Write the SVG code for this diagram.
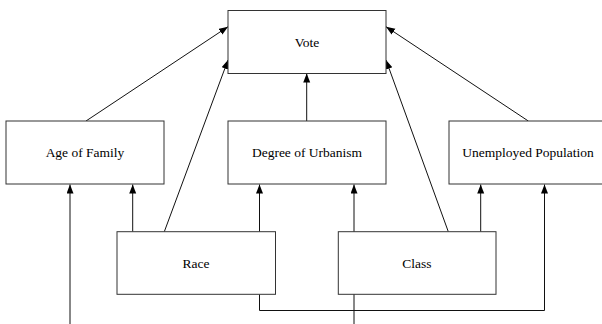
<svg xmlns="http://www.w3.org/2000/svg" width="602" height="324" viewBox="0 0 602 324">
<style>
.box{fill:#fff;stroke:#333;stroke-width:1}
.lbl{font-family:'Liberation Serif','DejaVu Serif',serif;font-size:13.5px;fill:#000;text-anchor:middle}
.c{fill:none;stroke:#111;stroke-width:1}
</style>
<defs>
<marker id="ah" markerUnits="userSpaceOnUse" markerWidth="10" markerHeight="8" refX="9" refY="3.5" orient="auto">
<path d="M0,0 L9,3.5 L0,7 Z" fill="#000"/>
</marker>
</defs>
<rect width="602" height="324" fill="#fff"/>
<g id="connectors">
<line class="c" x1="86" y1="121" x2="228" y2="26.7" marker-end="url(#ah)"/>
<line class="c" x1="164.3" y1="231.7" x2="228" y2="60" marker-end="url(#ah)"/>
<line class="c" x1="306.7" y1="121" x2="306.7" y2="73.5" marker-end="url(#ah)"/>
<line class="c" x1="448.3" y1="231.7" x2="386" y2="60" marker-end="url(#ah)"/>
<line class="c" x1="528.3" y1="121" x2="386" y2="26.7" marker-end="url(#ah)"/>
<line class="c" x1="70" y1="324" x2="70" y2="184.5" marker-end="url(#ah)"/>
<line class="c" x1="132.7" y1="231.7" x2="132.7" y2="184.5" marker-end="url(#ah)"/>
<line class="c" x1="259.5" y1="231.7" x2="259.5" y2="184.5" marker-end="url(#ah)"/>
<line class="c" x1="354" y1="324" x2="354" y2="184.5" marker-end="url(#ah)"/>
<line class="c" x1="480.7" y1="231.7" x2="480.7" y2="184.5" marker-end="url(#ah)"/>
<polyline class="c" points="259.5,294.3 259.5,310.5 544.5,310.5 544.5,184.5" marker-end="url(#ah)"/>
</g>
<g id="vote">
<rect class="box" x="228" y="10.5" width="158" height="63"/>
<text class="lbl" x="307" y="46.5">Vote</text>
</g>
<g id="age-of-family">
<rect class="box" x="6" y="121" width="158" height="63"/>
<text class="lbl" x="85" y="157">Age of Family</text>
</g>
<g id="degree-of-urbanism">
<rect class="box" x="228" y="121" width="158" height="63"/>
<text class="lbl" x="307" y="157">Degree of Urbanism</text>
</g>
<g id="unemployed-population">
<rect class="box" x="449" y="121" width="158" height="63"/>
<text class="lbl" x="528" y="157">Unemployed Population</text>
</g>
<g id="race">
<rect class="box" x="117" y="231.7" width="158.5" height="62.6"/>
<text class="lbl" x="196" y="267.5">Race</text>
</g>
<g id="class">
<rect class="box" x="338.3" y="231.7" width="157.7" height="62.6"/>
<text class="lbl" x="417" y="267.5">Class</text>
</g>
</svg>
